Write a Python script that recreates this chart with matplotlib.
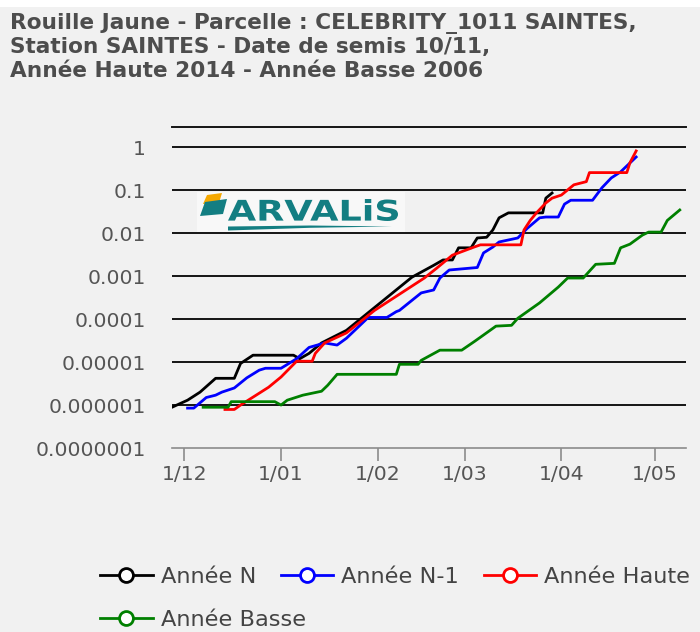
import matplotlib
matplotlib.use('Agg')
import matplotlib.pyplot as plt
from matplotlib.lines import Line2D
from matplotlib.patches import Polygon, Rectangle, PathPatch
from matplotlib.textpath import TextPath
from matplotlib.font_manager import FontProperties
from matplotlib.transforms import Affine2D
from matplotlib.ticker import NullLocator
import pandas as pd

# days counted from 1 December
season_start = pd.Timestamp('2014-12-01')

days_n = [-4, 1, 5, 10, 16, 18, 22, 35, 37, 40, 44, 52, 73, 80, 83, 86, 88, 92, 94, 97, 99, 101, 104, 115, 116, 118]
risk_n = [8.9e-7, 1.3e-6, 2.0e-6, 4.2e-6, 4.2e-6, 9.3e-6, 1.45e-5, 1.45e-5, 1.2e-5, 1.6e-5, 2.8e-5, 5.5e-5, 9.5e-4,
          1.8e-3, 2.4e-3, 2.4e-3, 4.6e-3, 4.6e-3, 7.8e-3, 8.1e-3, 0.012, 0.023, 0.030, 0.030, 0.066, 0.087]

days_n1 = [1, 3, 7, 10, 12, 16, 20, 24, 26, 31, 36, 40, 45, 49, 52, 59, 65, 68, 69, 76, 80, 82, 85, 94, 96, 99, 101,
           107, 110, 114, 116, 120, 122, 124, 131, 134, 137, 140, 145]
risk_n1 = [8.5e-7, 8.5e-7, 1.5e-6, 1.7e-6, 2.0e-6, 2.5e-6, 4.3e-6, 6.5e-6, 7.2e-6, 7.2e-6, 1.2e-5, 2.2e-5, 2.8e-5,
           2.5e-5, 3.6e-5, 1.1e-4, 1.1e-4, 1.5e-4, 1.6e-4, 4.1e-4, 4.8e-4, 9.1e-4, 1.4e-3, 1.6e-3, 3.5e-3, 4.8e-3,
           6.3e-3, 7.8e-3, 0.013, 0.023, 0.024, 0.024, 0.048, 0.059, 0.059, 0.115, 0.195, 0.27, 0.60]

days_haute = [13, 16, 18, 23, 27, 31, 36, 41, 42, 45, 52, 61, 77, 81, 86, 93, 95, 108, 109, 111, 113, 116, 118, 121,
              125, 129, 130, 142, 143, 145]
risk_haute = [7.9e-7, 7.9e-7, 1.0e-6, 1.7e-6, 2.6e-6, 4.5e-6, 1.05e-5, 1.05e-5, 1.6e-5, 2.8e-5, 4.8e-5, 1.6e-4,
              9.1e-4, 1.55e-3, 3.1e-3, 4.8e-3, 5.4e-3, 5.4e-3, 0.012, 0.020, 0.030, 0.051, 0.066, 0.078, 0.135,
              0.16, 0.26, 0.26, 0.44, 0.83]

days_basse = [6, 14, 15, 29, 31, 33, 38, 44, 46, 49, 68, 69, 75, 76, 82, 89, 93, 95, 100, 105, 107, 114, 120, 123,
              128, 132, 138, 140, 143, 147, 149, 153, 155, 159]
risk_basse = [8.9e-7, 8.9e-7, 1.2e-6, 1.2e-6, 1.0e-6, 1.3e-6, 1.7e-6, 2.1e-6, 2.9e-6, 5.2e-6, 5.2e-6, 8.9e-6,
              8.9e-6, 1.1e-5, 1.9e-5, 1.9e-5, 3.0e-5, 3.8e-5, 6.9e-5, 7.2e-5, 1.05e-4, 2.4e-4, 5.6e-4, 9.1e-4,
              9.1e-4, 1.9e-3, 2.0e-3, 4.6e-3, 5.6e-3, 9.1e-3, 0.0107, 0.0107, 0.020, 0.035]

series_labels = ['Année N', 'Année N-1', 'Année Haute', 'Année Basse']
series_colors = ['#000000', '#0000ff', '#ff0000', '#008000']

y_ticks = [1e-7, 1e-6, 1e-5, 1e-4, 1e-3, 1e-2, 1e-1, 1]
y_labels = ['0.0000001', '0.000001', '0.00001', '0.0001', '0.001', '0.01', '0.1', '1']
x_ticks = [0, 31, 62, 90, 121, 151]
x_labels = ['1/12', '1/01', '1/02', '1/03', '1/04', '1/05']

title_lines = ["Rouille Jaune - Parcelle : CELEBRITY_1011 SAINTES,",
               "Station SAINTES - Date de semis 10/11,",
               "Année Haute 2014 - Année Basse 2006"]

W, H = 700, 632
BG = '#f1f1f1'
TEAL = '#137e82'


def fx(x):
    return x / W


def fy(y):
    return 1 - y / H


def to_dates(days):
    return season_start + pd.to_timedelta(days, unit='D')


fig = plt.figure(figsize=(W / 100, H / 100), dpi=100, facecolor=BG)
fig.add_artist(Rectangle((0, fy(7)), 1, 7 / H, transform=fig.transFigure, color='white', lw=0))

ax = fig.add_axes([fx(172), fy(448), (686 - 172) / W, (448 - 127) / H])
ax.set_facecolor(BG)

all_days = [days_n, days_n1, days_haute, days_basse]
all_risk = [risk_n, risk_n1, risk_haute, risk_basse]
for d, r, c in zip(all_days, all_risk, series_colors):
    ax.plot(to_dates(d), r, color=c, lw=2.0, zorder=3, solid_joinstyle='round')

ax.set_yscale('log')
ax.set_ylim(1e-7, 3.0)
ax.set_xlim(pd.Timestamp('2014-11-27'), pd.Timestamp('2015-05-11'))
for v in y_ticks[1:]:
    ax.axhline(v, color='#151515', lw=1.4, zorder=1)

ax.set_yticks(y_ticks, y_labels)
ax.yaxis.set_minor_locator(NullLocator())
ax.tick_params(axis='y', length=0, pad=19, labelsize=14.7, labelcolor='#555555')
ax.set_xticks(to_dates(x_ticks), x_labels)
ax.tick_params(axis='x', length=9, width=1.2, color='#8c8c8c', pad=3, labelsize=14.7, labelcolor='#555555')

for s in ['left', 'right']:
    ax.spines[s].set_visible(False)
ax.spines['top'].set_color('#151515')
ax.spines['top'].set_linewidth(1.4)
ax.spines['bottom'].set_color('#8c8c8c')
ax.spines['bottom'].set_linewidth(1.2)

# logo
fig.add_artist(Rectangle((fx(197), fy(232)), (405 - 197) / W, (232 - 192) / H,
                         transform=fig.transFigure, color='#f8f8f8', lw=0, zorder=2))
fig.add_artist(Polygon([(fx(x), fy(y)) for x, y in [(203, 204), (207, 195), (222, 193), (219, 203)]],
                       closed=True, transform=fig.transFigure, color='#f5a800', lw=0, zorder=3))
fig.add_artist(Polygon([(fx(x), fy(y)) for x, y in [(200, 216), (205, 202), (227, 199), (223, 214)]],
                       closed=True, transform=fig.transFigure, color=TEAL, lw=0, zorder=4))
tp = TextPath((0, 0), 'ARVALiS', size=1, prop=FontProperties(family='DejaVu Sans', weight='bold'))
bb = tp.get_extents()
tr = (Affine2D().translate(-bb.x0, -bb.y0)
      .scale((398 - 228) / W / bb.width, (221 - 199) / H / bb.height)
      .translate(fx(228), fy(221)) + fig.transFigure)
fig.add_artist(PathPatch(tp, transform=tr, color=TEAL, lw=0, zorder=4))
fig.add_artist(Polygon([(fx(x), fy(y)) for x, y in [(228, 226.5), (310, 225.5), (392, 226.5), (310, 227.8), (228, 230.5)]],
                       closed=True, transform=fig.transFigure, color=TEAL, lw=0, zorder=4))

for i, line in enumerate(title_lines):
    fig.text(fx(10), fy(29 + 24 * i), line, ha='left', va='baseline', fontsize=15.6, fontweight='bold',
             family='DejaVu Sans', color='#4d4d4d')

handles = [Line2D([], [], color=c, lw=2.0, marker='o', markersize=10, markerfacecolor='white',
                  markeredgewidth=2.0) for c in series_colors]
legend_style = dict(loc='center left', frameon=False, fontsize=16.2, handlelength=2.34, handletextpad=0.35,
                    columnspacing=1.1, borderpad=0, borderaxespad=0, labelcolor='#444444')
fig.legend(handles[:3], series_labels[:3], ncol=3, bbox_to_anchor=(fx(100), fy(577)), **legend_style)
fig.legend(handles[3:], series_labels[3:], ncol=1, bbox_to_anchor=(fx(100), fy(620)), **legend_style)

fig.savefig('out.png', dpi=100, facecolor=fig.get_facecolor())
